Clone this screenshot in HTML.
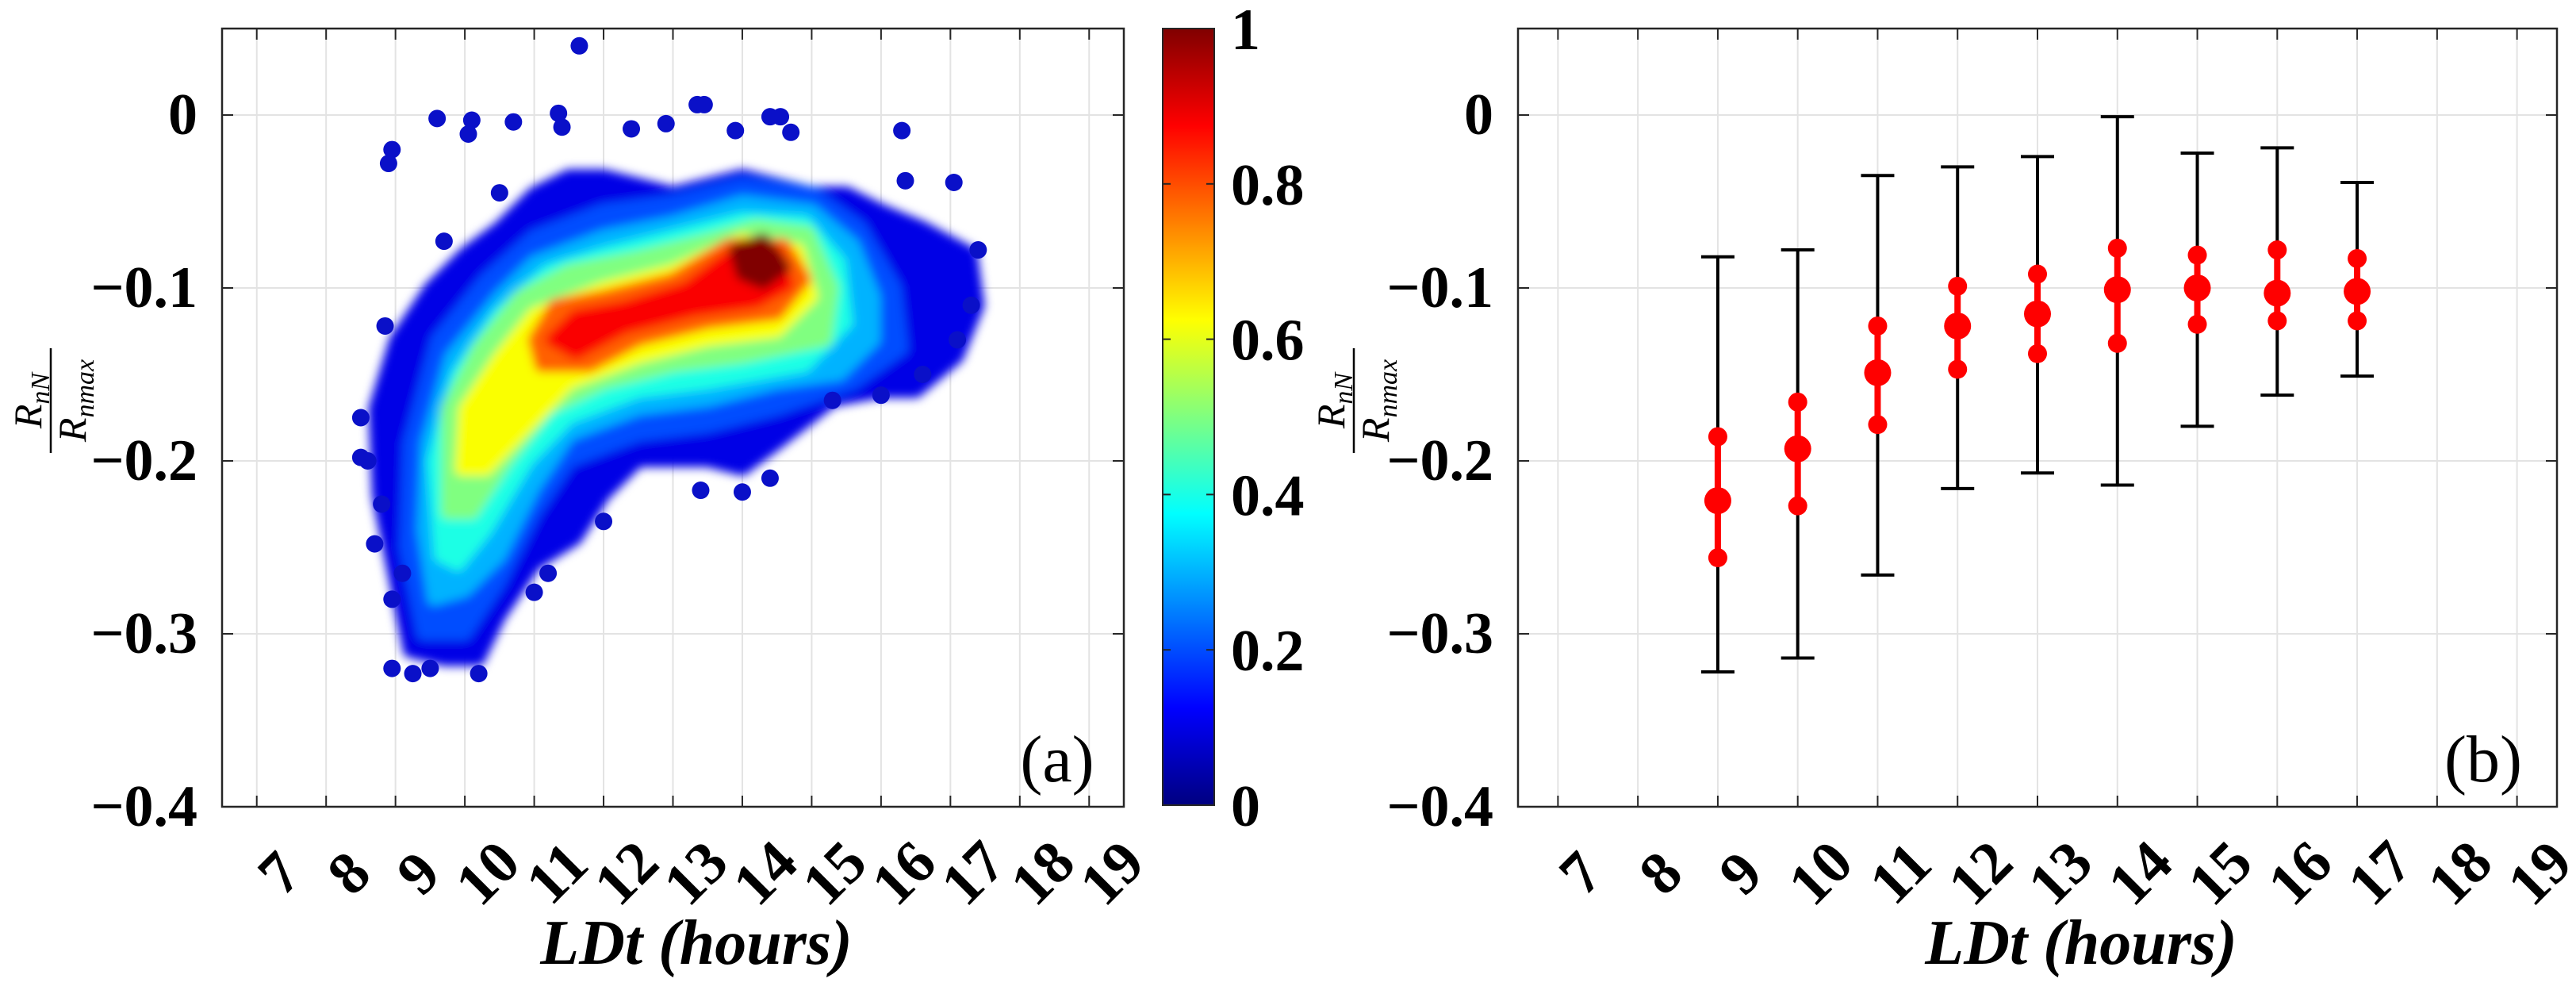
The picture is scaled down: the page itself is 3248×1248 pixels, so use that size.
<!DOCTYPE html>
<html><head><meta charset="utf-8"><style>
html,body{margin:0;padding:0;background:#fff;}
svg{display:block;}
text{font-family:"Liberation Serif",serif;}
</style></head><body>
<svg id="fig" width="3248" height="1248" viewBox="0 0 3248 1248" xmlns="http://www.w3.org/2000/svg">
<defs>
<linearGradient id="jet" x1="0" y1="1" x2="0" y2="0">
<stop offset="0" stop-color="#000080"/><stop offset="0.125" stop-color="#0000ff"/>
<stop offset="0.375" stop-color="#00ffff"/><stop offset="0.625" stop-color="#ffff00"/>
<stop offset="0.875" stop-color="#ff0000"/><stop offset="1" stop-color="#800000"/>
</linearGradient>
<filter id="soft" x="-10%" y="-10%" width="120%" height="120%"><feGaussianBlur stdDeviation="6"/></filter>
<clipPath id="clipA"><rect x="280" y="36" width="1137" height="981"/></clipPath>
</defs>
<g id="pa"></g>
<g id="pb"></g>
</svg>
<script>
const NS="http://www.w3.org/2000/svg";
// ----- data -----
const xTicks=[7,8,9,10,11,12,13,14,15,16,17,18,19];
const yTicks=[0,-0.1,-0.2,-0.3,-0.4];
const yTickLabels=["0","\u22120.1","\u22120.2","\u22120.3","\u22120.4"];
const cbTicks=[0,0.2,0.4,0.6,0.8,1];
const cbTickLabels=["0","0.2","0.4","0.6","0.8","1"];
// panel b error bar data
const hours=[9,10,11,12,13,14,15,16,17];
const meanVals=[-0.223,-0.193,-0.149,-0.122,-0.115,-0.101,-0.100,-0.103,-0.102];
const upperVals=[-0.186,-0.166,-0.122,-0.099,-0.092,-0.077,-0.081,-0.078,-0.083];
const lowerVals=[-0.256,-0.226,-0.179,-0.147,-0.138,-0.132,-0.121,-0.119,-0.119];
const maxVals=[-0.082,-0.078,-0.035,-0.030,-0.024,-0.001,-0.022,-0.019,-0.039];
const minVals=[-0.322,-0.314,-0.266,-0.216,-0.207,-0.214,-0.180,-0.162,-0.151];
// panel a density contour levels (data units: hours, value)
const densityLevels=[0.1,0.2,0.3,0.4,0.5,0.62,0.78,0.88,1.0];
const densityContours=[
[[9.2,-0.31],[9.0,-0.27],[8.75,-0.22],[8.7,-0.17],[9.0,-0.13],[9.5,-0.10],[10.0,-0.08],[10.5,-0.065],[11.0,-0.045],[11.5,-0.035],[12,-0.035],[13,-0.045],[14,-0.035],[14.5,-0.04],[15,-0.045],[15.5,-0.045],[16,-0.055],[16.6,-0.065],[17.3,-0.08],[17.4,-0.11],[17.1,-0.14],[16.5,-0.16],[16,-0.16],[15.3,-0.165],[14.5,-0.19],[14,-0.205],[13.5,-0.2],[12.5,-0.2],[12,-0.22],[11.6,-0.245],[11,-0.26],[10.5,-0.29],[10.2,-0.315],[9.7,-0.315]],
[[9.4,-0.3],[9.15,-0.25],[9.2,-0.19],[9.6,-0.13],[10.3,-0.095],[11,-0.07],[12,-0.055],[13,-0.05],[14,-0.04],[15,-0.045],[15.7,-0.065],[16.2,-0.1],[16.3,-0.135],[15.6,-0.155],[14.5,-0.17],[13.5,-0.18],[12.5,-0.185],[11.5,-0.2],[11,-0.23],[10.5,-0.27],[10,-0.3]],
[[9.55,-0.28],[9.4,-0.24],[9.45,-0.19],[9.8,-0.14],[10.5,-0.105],[11,-0.085],[12,-0.07],[13,-0.062],[14,-0.05],[15,-0.055],[15.6,-0.075],[15.9,-0.105],[15.9,-0.13],[15.4,-0.15],[14.5,-0.155],[13.5,-0.165],[12.5,-0.17],[11.5,-0.185],[11,-0.215],[10.5,-0.255],[10,-0.275]],
[[9.65,-0.255],[9.55,-0.2],[9.9,-0.15],[10.5,-0.115],[11.2,-0.09],[12,-0.08],[13,-0.07],[14,-0.06],[14.9,-0.062],[15.4,-0.085],[15.5,-0.12],[14.9,-0.145],[13.5,-0.155],[12.5,-0.16],[11.5,-0.175],[10.9,-0.20],[10.3,-0.24],[9.9,-0.26]],
[[9.75,-0.23],[9.75,-0.17],[10.2,-0.135],[10.8,-0.105],[11.5,-0.09],[12.5,-0.082],[13.5,-0.072],[14.2,-0.064],[14.95,-0.068],[15.3,-0.1],[15.2,-0.13],[14,-0.14],[13,-0.145],[12,-0.155],[11.2,-0.17],[10.6,-0.2],[10.1,-0.23]],
[[9.95,-0.205],[10.0,-0.17],[10.5,-0.14],[11,-0.115],[12,-0.10],[13,-0.09],[14,-0.072],[14.8,-0.078],[15,-0.105],[14.5,-0.125],[13.5,-0.13],[12.5,-0.14],[11.5,-0.155],[10.9,-0.18],[10.3,-0.205]],
[[11.0,-0.13],[11.3,-0.11],[12,-0.105],[13,-0.095],[13.8,-0.075],[14.6,-0.075],[14.9,-0.095],[14.5,-0.115],[13.5,-0.12],[12.5,-0.13],[11.8,-0.145],[11.1,-0.145]],
[[11.25,-0.13],[11.6,-0.116],[12.3,-0.111],[13.2,-0.1],[13.8,-0.082],[14.5,-0.08],[14.65,-0.098],[14.2,-0.108],[13.3,-0.113],[12.3,-0.123],[11.6,-0.138]],
[[13.9,-0.078],[14.3,-0.072],[14.6,-0.088],[14.3,-0.097],[14.0,-0.092]]
];
const outlierX=[8.95,8.9,9.6,10.1,10.05,10.7,11.35,11.65,11.4,12.4,12.9,13.35,13.45,13.9,14.4,14.55,14.7,16.3,17.05,16.35,8.85,8.5,8.5,8.6,8.8,8.7,8.95,8.95,9.25,9.5,10.2,9.1,11.0,11.2,12.0,14.4,13.4,14.0,15.3,16.0,16.6,17.1,17.4,17.3,10.5,9.7];
const outlierY=[-0.02,-0.028,-0.002,-0.003,-0.011,-0.004,0.001,0.04,-0.007,-0.008,-0.005,0.006,0.006,-0.009,-0.001,-0.001,-0.01,-0.009,-0.039,-0.038,-0.122,-0.175,-0.198,-0.2,-0.225,-0.248,-0.28,-0.32,-0.323,-0.32,-0.323,-0.265,-0.276,-0.265,-0.235,-0.21,-0.217,-0.218,-0.165,-0.162,-0.15,-0.13,-0.078,-0.11,-0.045,-0.073];

function jet(v){
  const r=Math.min(Math.max(Math.min(4*v-1.5,-4*v+4.5),0),1);
  const g=Math.min(Math.max(Math.min(4*v-0.5,-4*v+3.5),0),1);
  const b=Math.min(Math.max(Math.min(4*v+0.5,-4*v+2.5),0),1);
  return `rgb(${Math.round(r*255)},${Math.round(g*255)},${Math.round(b*255)})`;
}
function mk(parent,tag,attrs,txt){const e=document.createElementNS(NS,tag);for(const k in attrs)e.setAttribute(k,attrs[k]);if(txt!==undefined)e.textContent=txt;parent.appendChild(e);return e;}

const Y0=36,Y1=1017,YMIN=-0.4,YMAX=0.05,XMIN=6.5,XMAX=19.5;
function makeAxes(g,L,R,tag){
  const sx=v=>L+(v-XMIN)/(XMAX-XMIN)*(R-L);
  const sy=v=>Y1-(v-YMIN)/(YMAX-YMIN)*(Y1-Y0);
  xTicks.forEach((t,i)=>{
    const l=mk(g,'line',{x1:sx(t),x2:sx(t),y1:Y0,y2:Y1,stroke:'#e3e3e3','stroke-width':2});
    
    
    mk(g,'line',{x1:sx(t),x2:sx(t),y1:Y1,y2:Y1-14,stroke:'#262626','stroke-width':2});
    mk(g,'line',{x1:sx(t),x2:sx(t),y1:Y0,y2:Y0+14,stroke:'#262626','stroke-width':2});
    const cx=sx(t)+28,cy=1100;
    const tx=mk(g,'text',{x:cx,y:cy+26,'text-anchor':'middle','font-size':76,'font-weight':'bold',fill:'#000',transform:`rotate(-45 ${cx} ${cy})`},String(t));
    
    
  });
  yTicks.forEach((t,i)=>{
    const l=mk(g,'line',{x1:L,x2:R,y1:sy(t),y2:sy(t),stroke:'#e3e3e3','stroke-width':2});
    
    
    mk(g,'line',{x1:L,x2:L+14,y1:sy(t),y2:sy(t),stroke:'#262626','stroke-width':2});
    mk(g,'line',{x1:R,x2:R-14,y1:sy(t),y2:sy(t),stroke:'#262626','stroke-width':2});
    const tx=mk(g,'text',{x:L-31,y:sy(t)+24,'text-anchor':'end','font-size':74,'font-weight':'bold',fill:'#000'},yTickLabels[i]);
    
    
  });
  return {sx,sy};
}
function frame(g,L,R){
  const r=mk(g,'rect',{x:L,y:Y0,width:R-L,height:Y1-Y0,fill:'none',stroke:'#262626','stroke-width':2.5});
  
  
}
function labels(g,cxLabel,fracX,panelTxt,panelX){
  const xl=mk(g,'text',{x:cxLabel,y:1215,'text-anchor':'middle','font-size':80,'font-weight':'bold','font-style':'italic'},'LDt (hours)');
  
  
  const yl=mk(g,'g',{transform:`translate(${fracX} 505) rotate(-90)`});
  
  
  const num=mk(yl,'text',{x:0,y:-12,'text-anchor':'middle','font-size':50,'font-style':'italic'});
  num.innerHTML='R<tspan font-size="34" dy="10">nN</tspan>';
  mk(yl,'line',{x1:-66,x2:66,y1:0,y2:0,stroke:'#000','stroke-width':2.5});
  const den=mk(yl,'text',{x:0,y:44,'text-anchor':'middle','font-size':50,'font-style':'italic'});
  den.innerHTML='R<tspan font-size="34" dy="10">nmax</tspan>';
  const pl=mk(g,'text',{x:panelX,y:985,'text-anchor':'middle','font-size':84},panelTxt);
  
  
}

// ---- panel a ----
const pa=document.getElementById('pa');
const A=makeAxes(pa,280,1417);
const dens=mk(pa,'g',{'clip-path':'url(#clipA)'});


const blurG=mk(dens,'g',{filter:'url(#soft)'});
densityContours.forEach((poly,i)=>{
  const d=poly.map((p,j)=>(j?'L':'M')+A.sx(p[0]).toFixed(1)+' '+A.sy(p[1]).toFixed(1)).join(' ')+'Z';
  const p=mk(blurG,'path',{d:d,fill:jet(densityLevels[i]),stroke:jet(densityLevels[i]),'stroke-width':16,'stroke-linejoin':'round'});
  
  
});
outlierX.forEach((x,i)=>{
  const c=mk(dens,'circle',{cx:A.sx(x),cy:A.sy(outlierY[i]),r:11,fill:'#0a10c8'});
  
  
});
frame(pa,280,1417);
labels(pa,878,64,'(a)',1333);
// colorbar
const cb=mk(pa,'g',{});


mk(cb,'rect',{x:1466,y:36,width:65,height:979,fill:'url(#jet)',stroke:'#262626','stroke-width':2});
cbTicks.forEach((t,i)=>{
  const y=1015-t*979;
  mk(cb,'line',{x1:1531,x2:1521,y1:y,y2:y,stroke:'#262626','stroke-width':2});
  mk(cb,'line',{x1:1466,x2:1476,y1:y,y2:y,stroke:'#262626','stroke-width':2});
  const tx=mk(cb,'text',{x:1552,y:y+26,'font-size':74,'font-weight':'bold'},cbTickLabels[i]);
  
  
});

// ---- panel b ----
const pb=document.getElementById('pb');
const B=makeAxes(pb,1914,3224);
hours.forEach((h,i)=>{
  const g=mk(pb,'g',{});
  
  
  const x=B.sx(h);
  mk(g,'line',{x1:x,x2:x,y1:B.sy(maxVals[i]),y2:B.sy(minVals[i]),stroke:'#000','stroke-width':4});
  mk(g,'line',{x1:x-21,x2:x+21,y1:B.sy(maxVals[i]),y2:B.sy(maxVals[i]),stroke:'#000','stroke-width':4});
  mk(g,'line',{x1:x-21,x2:x+21,y1:B.sy(minVals[i]),y2:B.sy(minVals[i]),stroke:'#000','stroke-width':4});
  mk(g,'line',{x1:x,x2:x,y1:B.sy(upperVals[i]),y2:B.sy(lowerVals[i]),stroke:'#ff0000','stroke-width':8});
  mk(g,'circle',{cx:x,cy:B.sy(upperVals[i]),r:12,fill:'#ff0000'});
  mk(g,'circle',{cx:x,cy:B.sy(lowerVals[i]),r:12,fill:'#ff0000'});
  const m=mk(g,'circle',{cx:x,cy:B.sy(meanVals[i]),r:17,fill:'#ff0000'});
  
  
});
frame(pb,1914,3224);
labels(pb,2624,1707,'(b)',3131);
</script>
</body></html>
